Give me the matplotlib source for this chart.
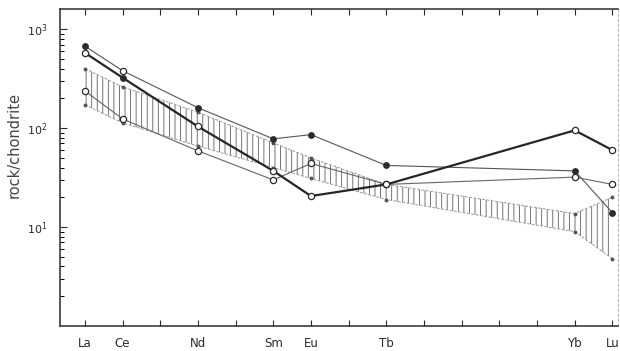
import matplotlib
matplotlib.use("Agg")
from matplotlib import pyplot
from matplotlib.ticker import FixedLocator, LogLocator, NullFormatter

# element positions (atomic number) and labels
all_z = list(range(57, 72))
elements = ["La", "Ce", "Nd", "Sm", "Eu", "Tb", "Yb", "Lu"]
z = [57, 58, 60, 62, 63, 65, 70, 71]

# hatched field
band_upper = [400, 262, 145, 71, 50, 27, 13.7, 20]
band_lower = [172, 113, 66, 40, 31, 19, 9, 4.8]

# samples
thick_vals = [578, 324, 104, 37, 20.6, 27, 95, 60]
thick_filled = [False, True, False, False, False, False, False, False]
upper_vals = [675, 381, 161, 78, 86, 42, 37, 14]
upper_filled = [True, False, True, True, True, True, True, True]
lower_vals = [238, 124, 59, 30, 44, 27, 32, 27]
lower_filled = [False] * 8

ink = "#2b2b2b"
pyplot.rcParams["hatch.linewidth"] = 0.6

fig = pyplot.figure(figsize=(6.2, 3.51), dpi=100)
ax = fig.add_axes([0.0968, 0.0712, 0.9, 0.903])
ax.set_yscale("log")
ax.set_xlim(56.34, 71.15)
ax.set_ylim(1, 1600)

# field
ax.fill_between(z, band_lower, band_upper, facecolor="none", edgecolor="#5e5e5e",
                hatch="|||", linewidth=0)
ax.plot(z, band_upper, color="#9a9a9a", lw=0.7, ls=(0, (3, 1.5)))
ax.plot(z, band_lower, color="#9a9a9a", lw=0.7, ls=(0, (3, 1.5)))
ax.plot(z, band_upper, ls="none", marker="o", ms=1.8, color="#555555")
ax.plot(z, band_lower, ls="none", marker="o", ms=1.8, color="#555555")


def sample(vals, filled, lw, color):
    ax.plot(z, vals, color=color, lw=lw, zorder=3)
    for x, v, f in zip(z, vals, filled):
        ax.plot(x, v, marker="o", ms=4.5 if not f else 4, mec=ink, mew=0.9,
                mfc=ink if f else "white", zorder=4)


sample(upper_vals, upper_filled, 0.8, "#555555")
sample(lower_vals, lower_filled, 0.8, "#666666")
sample(thick_vals, thick_filled, 1.6, "#262626")

ax.xaxis.set_major_locator(FixedLocator(all_z))
ax.set_xticklabels([elements[z.index(v)] if v in z else "" for v in all_z])
ax.yaxis.set_major_locator(FixedLocator([10, 100, 1000]))
ax.yaxis.set_minor_locator(LogLocator(base=10, subs=range(2, 10)))
ax.yaxis.set_minor_formatter(NullFormatter())

ax.tick_params(axis="x", direction="in", length=4, width=0.8, top=True,
               labelsize=8.5, pad=8, colors=ink)
ax.tick_params(axis="y", which="major", direction="in", length=5, width=0.8,
               labelsize=8, pad=9, colors=ink)
ax.tick_params(axis="y", which="minor", direction="in", length=3, width=0.7)

for s in ["left", "bottom", "top"]:
    ax.spines[s].set_color(ink)
    ax.spines[s].set_linewidth(1.1)
ax.spines["right"].set_color("#aaaaaa")
ax.spines["right"].set_linewidth(0.6)
ax.spines["right"].set_linestyle((0, (3, 3)))

ax.set_ylabel("rock/chondrite", fontsize=10.5, color="#444444")
ax.yaxis.set_label_coords(-0.068, 0.57)

fig.savefig("out.png", dpi=100)
